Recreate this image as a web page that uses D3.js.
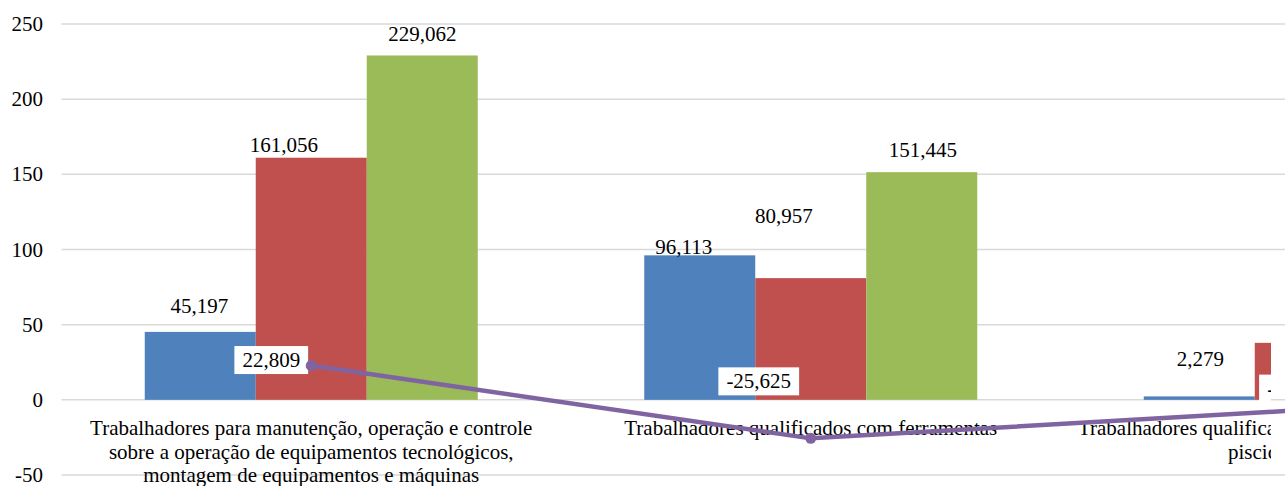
<!DOCTYPE html>
<html>
<head>
<meta charset="utf-8">
<script src="https://cdn.jsdelivr.net/npm/d3@7"></script>
<style>
  body { margin: 0; background: #fff; overflow: hidden; }
  svg text { font-family: "Liberation Serif", "Times New Roman", serif; font-size: 21px; fill: #000; }
</style>
</head>
<body>
<div id="chart"></div>
<script>
// categories (the third one is cut off at the right edge of the picture)
var categories = [
    ["Trabalhadores para manutenção, operação e controle", "sobre a operação de equipamentos tecnológicos,", "montagem de equipamentos e máquinas"],
    ["Trabalhadores qualificados com ferramentas"],
    ["Trabalhadores qualificados em agricultura, silvicultura,", "piscicultura e pesca"]
];
var catKeys = ["c1", "c2", "c3"];
var seriesNames = ["s1", "s2", "s3"];
var blueValues = [45197, 96113, 2279];
var redValues = [161056, 80957, 37900];
var greenValues = [229062, 151445, 52000];
var lineValues = [22809, -25625, -6512];
var yTicks = [-50, 0, 50, 100, 150, 200, 250];

var width = 1285, height = 486;
var colors = {s1: "#4f81bd", s2: "#c0504d", s3: "#9bbb59"};

// manual label nudges (the original chart had hand-moved labels)
var barNudge = {
    s1: [[-1, -19], [-16, -1.5], [1, -30]],
    s2: [[-27.5, -6], [-27, -55], [0, -15]],
    s3: [[0, -14.5], [1, -15], [0, -15]]
};
var lineNudge = [[-40, 1.5], [-52, -50], [-16, -14]];

var svg = d3.select("#chart")
    .append("svg")
        .attr("width", width)
        .attr("height", height);

// bars and texts of the chart are cut a bit before the right edge
svg.append("defs").append("clipPath")
    .attr("id", "cut")
    .append("rect")
        .attr("x", 0).attr("y", 0)
        .attr("width", 1271).attr("height", height);

var x0 = d3.scaleBand()
    .domain(catKeys)
    .range([61.5, 61.5 + 3 * 499.5]);
var x1 = d3.scaleBand()
    .domain(seriesNames)
    .range([0, x0.bandwidth()])
    .paddingOuter(0.75);
var y = d3.scaleLinear()
    .domain([-50000, 250000])
    .range([475, 24]);

// gridlines
svg.append("g")
    .selectAll("line")
    .data(yTicks)
    .enter().append("line")
        .attr("x1", 61.5)
        .attr("x2", width)
        .attr("y1", function(d) { return y(d * 1000); })
        .attr("y2", function(d) { return y(d * 1000); })
        .attr("stroke", "#d9d9d9")
        .attr("stroke-width", 1.5);

// y tick labels
svg.append("g")
    .selectAll("text")
    .data(yTicks)
    .enter().append("text")
        .attr("x", 43)
        .attr("y", function(d) { return y(d * 1000) + 7; })
        .attr("text-anchor", "end")
        .text(function(d) { return d; });

var cut = svg.append("g").attr("clip-path", "url(#cut)");

// bars
var rows = catKeys.map(function(c, i) {
    return {key: c, i: i, vals: [
        {s: "s1", v: blueValues[i]},
        {s: "s2", v: redValues[i]},
        {s: "s3", v: greenValues[i]}
    ]};
});

var groups = cut.selectAll(".grp")
    .data(rows)
    .enter().append("g")
        .attr("class", "grp")
        .attr("transform", function(d) { return "translate(" + x0(d.key) + ",0)"; });

groups.selectAll("rect")
    .data(function(d) { return d.vals; })
    .enter().append("rect")
        .attr("x", function(d) { return x1(d.s); })
        .attr("y", function(d) { return y(Math.max(0, d.v)); })
        .attr("width", x1.bandwidth())
        .attr("height", function(d) { return Math.abs(y(d.v) - y(0)); })
        .style("fill", function(d) { return colors[d.s]; });

// category labels
rows.forEach(function(r) {
    var t = cut.append("text")
        .attr("text-anchor", "middle")
        .attr("x", x0(r.key) + x0.bandwidth() / 2)
        .attr("y", 435);
    categories[r.i].forEach(function(line, k) {
        t.append("tspan")
            .attr("x", x0(r.key) + x0.bandwidth() / 2)
            .attr("dy", k == 0 ? 0 : 23.5)
            .text(line);
    });
});

// trend line
var fmt = d3.formatLocale({decimal: ".", thousands: ",", grouping: [3], currency: ["", ""], minus: "-"}).format(",");
var cx = function(i) { return x0(catKeys[i]) + x0.bandwidth() / 2; };

svg.append("path")
    .datum(lineValues)
    .attr("fill", "none")
    .attr("stroke", "#8064a2")
    .attr("stroke-width", 4.5)
    .attr("d", d3.line()
        .x(function(d, i) { return cx(i); })
        .y(function(d) { return y(d); })
    );
svg.append("g")
    .selectAll("circle")
    .data(lineValues)
    .enter().append("circle")
        .attr("cx", function(d, i) { return cx(i); })
        .attr("cy", function(d) { return y(d); })
        .attr("r", 5.5)
        .style("fill", "#8064a2");

// bar value labels
var labels = cut.append("g");
rows.forEach(function(r) {
    r.vals.forEach(function(d) {
        labels.append("text")
            .attr("text-anchor", "middle")
            .attr("x", x0(r.key) + x1(d.s) + x1.bandwidth() / 2 + barNudge[d.s][r.i][0])
            .attr("y", y(d.v) + barNudge[d.s][r.i][1])
            .text(fmt(d.v));
    });
});

// line value labels with white boxes
lineValues.forEach(function(v, i) {
    var g = cut.append("g");
    var t = g.append("text")
        .attr("text-anchor", "middle")
        .attr("x", cx(i) + lineNudge[i][0])
        .attr("y", y(v) + lineNudge[i][1])
        .text(fmt(v));
    var bb = t.node().getBBox();
    g.insert("rect", "text")
        .attr("x", bb.x - 8)
        .attr("y", bb.y - 2)
        .attr("width", bb.width + 16)
        .attr("height", bb.height + 4)
        .style("fill", "#fff");
});
</script>
</body>
</html>
